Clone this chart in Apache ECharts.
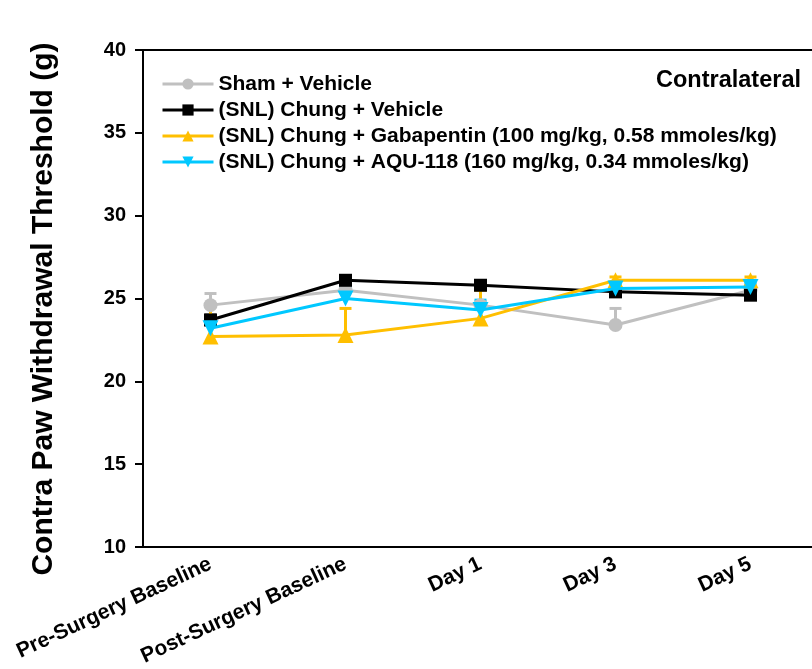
<!DOCTYPE html>
<html>
<head>
<meta charset="utf-8">
<script src="https://cdn.jsdelivr.net/npm/echarts@6/dist/echarts.min.js"></script>
<style>html,body{margin:0;padding:0;background:#fff}#c{width:812px;height:669px}</style>
</head>
<body>
<div id="c"></div>
<script>
const categories = ['Pre-Surgery Baseline', 'Post-Surgery Baseline', 'Day 1', 'Day 3', 'Day 5'];
const seriesNames = ['Sham + Vehicle', '(SNL) Chung + Vehicle', '(SNL) Chung + Gabapentin (100 mg/kg, 0.58 mmoles/kg)', '(SNL) Chung + AQU-118 (160 mg/kg, 0.34 mmoles/kg)'];
const shamVehicle = [24.6, 25.5, 24.6, 23.4, 25.5];
const chungVehicle = [23.7, 26.1, 25.8, 25.4, 25.2];
const chungGabapentin = [22.7, 22.8, 23.8, 26.1, 26.1];
const chungAQU = [23.2, 25.0, 24.3, 25.6, 25.7];
const shamErr = [0.7, 0.2, 0.2, 1.0, 0.2];
const vehicleErr = [0.3, 0.2, 0.2, 0.2, 0.2];
const gabaErr = [1.9, 1.6, 1.7, 0.2, 0.2];
const aquErr = [0.3, 0.7, 0.6, 0.2, 0.2];
const yTicks = [10, 15, 20, 25, 30, 35, 40];
const yTitle = 'Contra Paw Withdrawal Threshold (g)';
const panelLabel = 'Contralateral';

const colors = ['#c0c0c0', '#000000', '#ffbf00', '#00c8ff'];
const values = [shamVehicle, chungVehicle, chungGabapentin, chungAQU];
const errs = [shamErr, vehicleErr, gabaErr, aquErr];
const symbols = ['circle', 'rect', 'triangle', 'triangle'];
const symRot = [0, 0, 0, 180];
const symSize = [14, 13, 16, 16];
const FONT = 'Liberation Sans, Arial, sans-serif';

const series = [];
values.forEach((vals, k) => {
  series.push({
    type: 'custom',
    silent: true,
    z: 1 + k,
    renderItem: function (params, api) {
      const x = api.value(0), y = api.value(1), e = api.value(2);
      const p0 = api.coord([x, y]);
      const p1 = api.coord([x, y + e]);
      return {
        type: 'group',
        children: [
          { type: 'line', shape: { x1: p0[0], y1: p0[1], x2: p1[0], y2: p1[1] }, style: { stroke: colors[k], lineWidth: 3 } },
          { type: 'line', shape: { x1: p1[0] - 6, y1: p1[1], x2: p1[0] + 6, y2: p1[1] }, style: { stroke: colors[k], lineWidth: 3 } }
        ]
      };
    },
    data: vals.map((v, i) => [i, v, errs[k][i]])
  });
});
values.forEach((vals, k) => {
  series.push({
    name: seriesNames[k],
    type: 'line',
    z: 10 + k,
    data: vals,
    symbol: symbols[k],
    symbolRotate: symRot[k],
    symbolSize: symSize[k],
    showAllSymbol: true,
    lineStyle: { color: colors[k], width: 3 },
    itemStyle: { color: colors[k], borderColor: colors[k], borderWidth: 0 }
  });
});

const chart = echarts.init(document.getElementById('c'), null, { renderer: 'canvas' });
chart.setOption({
  backgroundColor: '#fff',
  animation: false,
  title: {
    text: panelLabel, right: 6, top: 64,
    textStyle: { fontFamily: FONT, fontWeight: 'bold', fontSize: 23.5, color: '#000' }
  },
  legend: {
    orient: 'vertical', left: 156, top: 68,
    itemWidth: 51, itemHeight: 14, itemGap: 4,
    lineStyle: { width: 3 },
    data: seriesNames,
    textStyle: { fontFamily: FONT, fontWeight: 'bold', fontSize: 21, lineHeight: 22, color: '#000' }
  },
  graphic: [{
    type: 'text', x: 44, y: 309, rotation: Math.PI / 2,
    style: { text: yTitle, fontFamily: FONT, fontWeight: 'bold', fontSize: 30, fill: '#000', align: 'center', verticalAlign: 'middle' }
  }],
  grid: { left: 143, top: 50, width: 675, height: 497, outerBoundsMode: 'none', containLabel: false,
    show: true, borderColor: '#000', borderWidth: 2, backgroundColor: 'transparent' },
  xAxis: {
    type: 'category', data: categories, boundaryGap: true,
    axisLine: { lineStyle: { color: '#000', width: 2 } },
    axisTick: { alignWithLabel: true, length: 7, lineStyle: { color: '#000', width: 2 } },
    axisLabel: { rotate: 25, margin: 16, interval: 0, fontFamily: FONT, fontWeight: 'bold', fontSize: 21, color: '#000' },
    splitLine: { show: false }
  },
  yAxis: {
    type: 'value', min: 10, max: 40, interval: 5,
    axisLine: { show: true, lineStyle: { color: '#000', width: 2 } },
    axisTick: { show: true, length: 8, lineStyle: { color: '#000', width: 2 } },
    axisLabel: { margin: 17, fontFamily: FONT, fontWeight: 'bold', fontSize: 20, color: '#000',
      formatter: v => yTicks.includes(v) ? String(v) : '' },
    splitLine: { show: false }
  },
  series: series
});
</script>
</body>
</html>
